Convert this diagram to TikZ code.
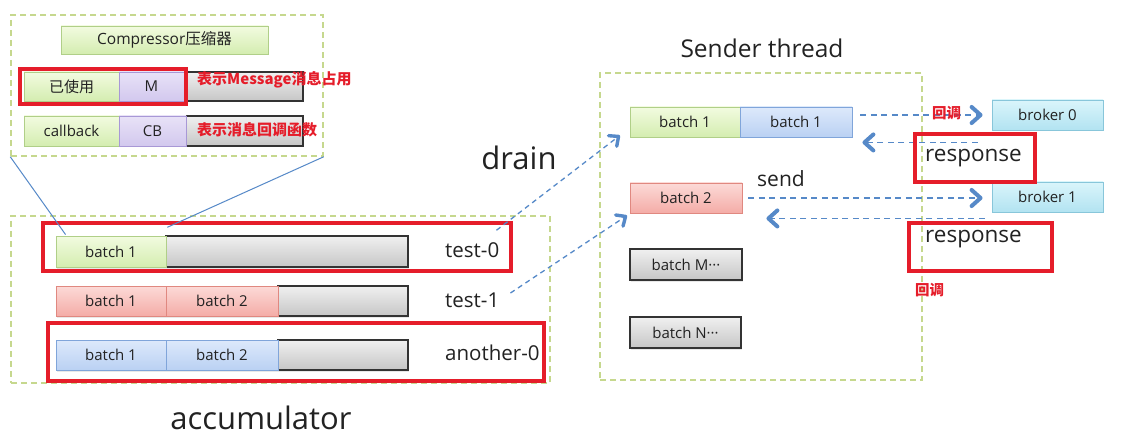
\documentclass[tikz,border=0pt]{standalone}
\usepackage{fontspec}
\setmainfont{Open Sans}
\newfontfamily\cjk{Noto Sans CJK SC}
\usetikzlibrary{calc,shadows}
\definecolor{gT}{HTML}{F2FBE0}\definecolor{gB}{HTML}{D4EDB0}\definecolor{gL}{HTML}{B0CF88}
\definecolor{pT}{HTML}{E8E2F7}\definecolor{pB}{HTML}{D2C8EE}\definecolor{pL}{HTML}{A898D6}
\definecolor{kT}{HTML}{F0F0F0}\definecolor{kB}{HTML}{C6C6C6}\definecolor{kL}{HTML}{333333}
\definecolor{rT}{HTML}{FCDAD7}\definecolor{rB}{HTML}{F4ACA7}\definecolor{rL}{HTML}{E08880}
\definecolor{bT}{HTML}{DDE9FB}\definecolor{bB}{HTML}{BAD1F3}\definecolor{bL}{HTML}{80A5DA}
\definecolor{cT}{HTML}{DAF5FB}\definecolor{cB}{HTML}{B2E3F1}\definecolor{cL}{HTML}{88C6DA}
\definecolor{dashC}{HTML}{C6D88E}
\definecolor{hiRed}{HTML}{E51D2A}
\definecolor{arrC}{HTML}{5689C8}
\definecolor{txt}{HTML}{222222}
\tikzset{
  cell/.style={draw, inner sep=0pt, line width=0.9pt, text=txt,
    font=\fontsize{15}{15}\selectfont,
    drop shadow={shadow xshift=1pt, shadow yshift=-1.5pt, opacity=0.18}},
  gcell/.style={cell, draw=gL, top color=gT, bottom color=gB},
  pcell/.style={cell, draw=pL, top color=pT, bottom color=pB},
  kcell/.style={cell, draw=kL, line width=1.4pt, top color=kT, bottom color=kB},
  rcell/.style={cell, draw=rL, top color=rT, bottom color=rB},
  bcell/.style={cell, draw=bL, top color=bT, bottom color=bB},
  ccell/.style={cell, draw=cL, top color=cT, bottom color=cB},
  dbox/.style={draw=dashC, line width=1.5pt, dash pattern=on 6pt off 4pt, inner sep=0pt},
  redrect/.style={draw=hiRed, line width=3.5pt, inner sep=0pt},
  note/.style={text=hiRed, font=\cjk\bfseries\fontsize{15}{15}\selectfont, inner sep=0pt, anchor=west},
  smallnote/.style={text=hiRed, font=\cjk\bfseries\fontsize{14.5}{15}\selectfont, inner sep=0pt, anchor=west},
  lbl/.style={text=txt, inner sep=0pt, anchor=west, font=\fontsize{20.5}{21}\selectfont},
  aline/.style={draw=arrC, line width=1.6pt, dash pattern=on 6pt off 4.5pt},
  dline/.style={draw=arrC, line width=1.3pt, dash pattern=on 5pt off 4pt},
  chev/.style={draw=arrC, solid, line width=4pt, line cap=round, line join=round},
  dchev/.style={draw=arrC, solid, line width=3.4pt, line cap=round, line join=round},
  link/.style={draw=arrC, line width=1pt}
}
\newcommand\cellbox[7]{\node[#2, minimum width={#5-#3}, minimum height={#6-#4}] (#1) at ({(#3+#5)/2},{(#4+#6)/2}) {#7};}
% #1 line style, #2 chevron style, #3 arm length, #4 start, #5 end
\newcommand\tipped[5]{\draw[#1] (#4) -- ($(#5)!1.5pt!(#4)$);
  \draw[#2] ($(#5)!#3!42:(#4)$) -- (#5) -- ($(#5)!#3!-42:(#4)$);}
\begin{document}
\begin{tikzpicture}[x=1pt,y=-1pt]
\useasboundingbox[fill=white] (0,0) rectangle (1136,441);
% ---- compressor detail box
\cellbox{topbox}{dbox}{11}{15}{323}{156}{}
\cellbox{comp}{gcell}{61}{26}{268}{54}{\fontsize{15.5}{16}\selectfont Compressor{\cjk 压缩器}}
\cellbox{used}{gcell}{24}{72}{119}{101}{\cjk 已使用}
\cellbox{usedk}{kcell}{184}{72}{303}{101}{}
\cellbox{usedm}{pcell}{119}{72}{184}{101}{M}
\cellbox{cb}{gcell}{24}{116}{119}{146}{callback}
\cellbox{cbk}{kcell}{186}{116}{303}{146}{}
\cellbox{cbm}{pcell}{119}{116}{186}{146}{CB}
\cellbox{rr1}{redrect}{20}{69}{186}{104}{}
\node[note] (n1) at (197,80) {表示Message消息占用};
\node[note] (n2) at (197,130) {表示消息回调函数};
% ---- accumulator
\cellbox{acc}{dbox}{11}{216}{550}{383}{}
\cellbox{a0k}{kcell}{166}{236}{408}{267}{}
\cellbox{a0}{gcell}{56}{236}{166}{267}{batch 1}
\cellbox{a1k}{kcell}{278}{286}{408}{316}{}
\cellbox{a1}{rcell}{56}{286}{166}{316}{batch 1}
\cellbox{a1b}{rcell}{166}{286}{278}{316}{batch 2}
\cellbox{a2k}{kcell}{278}{340}{408}{370}{}
\cellbox{a2}{bcell}{56}{340}{166}{370}{batch 1}
\cellbox{a2b}{bcell}{166}{340}{278}{370}{batch 2}
\node[lbl] (t0) at (445,250) {test-0};
\node[lbl] (t1) at (445,300) {test-1};
\node[lbl] (t2) at (445,353) {another-0};
\cellbox{rr2}{redrect}{43}{223}{511}{271}{}
\cellbox{rr3}{redrect}{48}{323}{544}{381}{}
\node[text=txt, inner sep=0pt, font=\fontsize{31}{31}\selectfont] (acct) at (261,418) {accumulator};
\draw[link] (topbox.south west) -- ($(a0.north west)+(10,-1)$);
\draw[link] (topbox.south east) -- ($(a0k.north west)+(2,-8)$);
% ---- sender
\node[text=txt, inner sep=0pt, font=\fontsize{24.5}{25}\selectfont] (sndt) at (762,48) {Sender thread};
\cellbox{snd}{dbox}{600}{73}{922}{380}{}
\cellbox{sb1a}{gcell}{630}{107}{740}{137}{batch 1}
\cellbox{sb1b}{bcell}{740}{107}{852}{137}{batch 1}
\cellbox{sb2}{rcell}{630}{183}{742}{213}{batch 2}
\cellbox{sbm}{kcell}{630}{249}{742}{280}{batch M\textperiodcentered\textperiodcentered\textperiodcentered}
\cellbox{sbn}{kcell}{630}{317}{741}{348}{batch N\textperiodcentered\textperiodcentered\textperiodcentered}
\cellbox{br0}{ccell}{992}{100}{1103}{130}{broker 0}
\cellbox{br1}{ccell}{992}{182}{1103}{212}{broker 1}
\node[text=txt, inner sep=0pt, font=\fontsize{31}{31}\selectfont] (drn) at (519,158) {drain};
\node[text=txt, inner sep=0pt, font=\fontsize{21}{21}\selectfont] (sendt) at (781,179) {send};
% arrow end points
\coordinate (p1s) at ($(sb1b.east |- br0.west)+(8,0)$);
\coordinate (p1e) at ($(br0.west)+(-11,0)$);
\coordinate (p2s) at ($(br0.south west)+(-14,12)$);
\coordinate (p2e) at ($(sb1b.south east)+(12,5)$);
\coordinate (p3s) at ($(sb2.east)+(6,0)$);
\coordinate (p3e) at ($(sb2.east -| br1.west)+(-11,0)$);
\coordinate (p4s) at ($(br1.south west)+(-7,6)$);
\coordinate (p4e) at ($(sb2.south east)+(26,5)$);
\coordinate (d1s) at ($(t0.north east)+(-3,-12)$);
\coordinate (d1e) at ($(sb1a.south west)+(-11,-1)$);
\coordinate (d2s) at ($(t1.east)+(11,-7)$);
\coordinate (d2e) at ($(sb2.south west)+(-4,3)$);
\tipped{aline}{chev}{12pt}{p1s}{p1e}
\tipped{aline}{chev}{12pt}{p2s}{p2e}
\tipped{aline}{chev}{12pt}{p3s}{p3e}
\tipped{aline}{chev}{12pt}{p4s}{p4e}
\tipped{dline}{dchev}{10pt}{d1s}{d1e}
\tipped{dline}{dchev}{10pt}{d2s}{d2e}
\node[smallnote] (cb1) at (932,113) {回调};
\node[smallnote] (cb2) at (915,290) {回调};
\node[lbl, font=\fontsize{22.5}{23}\selectfont] (resp1) at (925,158) {response};
\node[lbl, font=\fontsize{22.5}{23}\selectfont] (resp2) at (925,239) {response};
\cellbox{rr4}{redrect}{915}{134}{1035}{182}{}
\cellbox{rr5}{redrect}{909}{223}{1052}{271}{}
\end{tikzpicture}
\end{document}
